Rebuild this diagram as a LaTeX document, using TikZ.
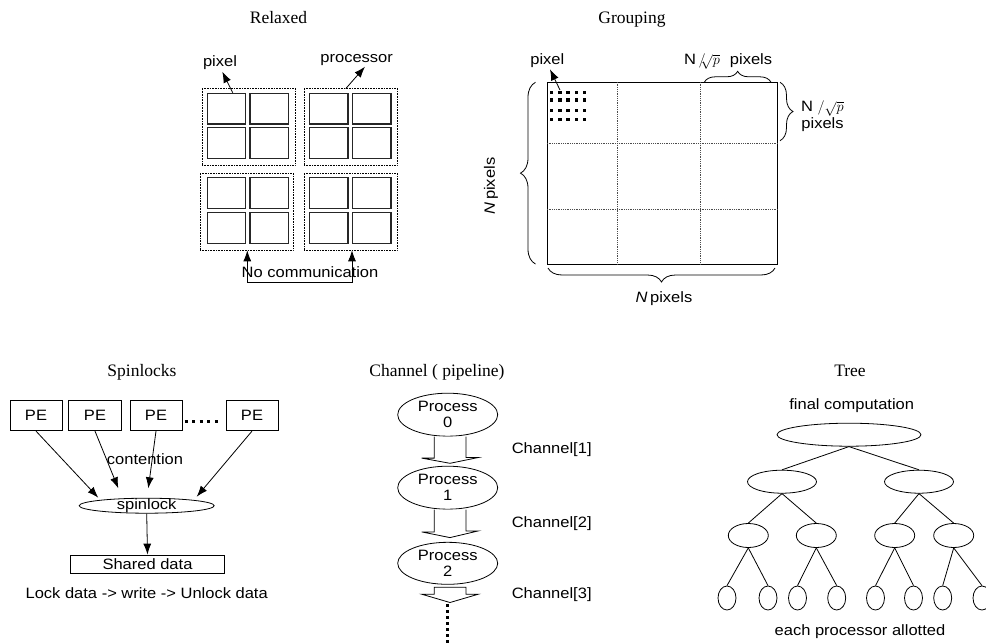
\documentclass[tikz,border=0pt]{standalone}
\usepackage{fontspec}
\setmainfont{Liberation Serif}
\newfontfamily\arialf{Liberation Sans}[FakeStretch=1.1]
\newcommand\labfont{\arialf\fontsize{15}{17}\selectfont}
\usetikzlibrary{shapes.geometric,arrows.meta,decorations.pathreplacing,calc}
\begin{document}
\begin{tikzpicture}[x=1pt,y=-1pt,
  title/.style={font=\fontsize{17.5}{20}\selectfont, anchor=base, inner sep=0},
  lab/.style={font=\labfont, inner sep=0, align=center},
  cell/.style={draw=black!85, line width=1.4pt, minimum width=38.4pt, minimum height=30.7pt, inner sep=0},
  grp/.style={draw, line width=0.6pt, dash pattern=on 0.7pt off 0.9pt, minimum width=93pt, minimum height=77pt, inner sep=0},
  arr/.style={-{Latex[length=11pt,width=8pt]}, line width=0.8pt},
  pebox/.style={draw, line width=0.8pt, minimum width=52pt, minimum height=30pt, inner sep=0, font=\labfont},
  ell/.style={draw, ellipse, line width=0.8pt, inner sep=0},
  gridl/.style={draw=black!70, line width=0.6pt, dash pattern=on 0.8pt off 1pt},
  brc/.style={draw, line width=0.8pt, decorate},
  sq/.style={fill=black, minimum size=3.4pt, inner sep=0},
  edge/.style={line width=0.8pt},
  blk/.style={draw, line width=0.8pt, fill=white},
]
\clip (0,0) rectangle (986,643);

% ---------------- titles
\node[title] (t1) at (278.5,23.5) {Relaxed};
\node[title] (t2) at (632,23.5) {Grouping};
\node[title] (t3) at (142,376) {Spinlocks};
\node[title] (t4) at (437,376) {Channel ( pipeline)};
\node[title] (t5) at (850,376) {Tree};

% ---------------- Relaxed
\node[grp] (g1) at (248.5,126.5) {};
\node[grp] (g2) at (350.5,126.5) {};
\node[grp] (g3) at (246.5,211.5) {};
\node[grp] (g4) at (350.5,211.5) {};
\foreach \gx/\gy/\n in {226.5/108.7/11, 269.2/108.7/12, 226.5/143/13, 269.2/143/14,
                        328.9/108.7/21, 371.7/108.7/22, 328.9/143/23, 371.7/143/24,
                        226.5/193/31, 269.2/193/32, 226.5/228/33, 269.2/228/34,
                        328.9/193/41, 371.7/193/42, 328.9/228/43, 371.7/228/44}
  \node[cell] (c\n) at (\gx,\gy) {};
\node[lab] (lpx1) at (220,62.7) {pixel};
\node[lab] (lproc) at (356.7,60) {processor};
\coordinate (tp1) at (222.3,71.7);
\coordinate (tp2) at (365,66.7);
\draw[arr] ($(c11.north)+(6.2,0)$) -- (tp1);
\draw[arr] ($(g2.north)+(-4.8,1)$) -- (tp2);
\coordinate (nc1) at (247.3,282.7);
\coordinate (nc2) at (352,282.7);
\draw[line width=0.8pt] (nc1) -- (nc2);
\draw[arr] (nc1) -- (nc1 |- g3.south);
\draw[arr] (nc2) -- (nc2 |- g4.south);
\node[lab] (lnc) at (310,272.3) {No communication};

% ---------------- Grouping
\node[draw, line width=1.1pt, minimum width=230pt, minimum height=181.7pt, inner sep=0] (G) at (662.3,173.2) {};
\draw[gridl] ($(G.north west)+(71,0)$) -- ($(G.south west)+(71,0)$);
\draw[gridl] ($(G.north west)+(153.7,0)$) -- ($(G.south west)+(153.7,0)$);
\draw[gridl] ($(G.north west)+(0,61.7)$) -- ($(G.north east)+(0,61.7)$);
\draw[gridl] ($(G.north west)+(0,127.7)$) -- ($(G.north east)+(0,127.7)$);
\foreach \ry in {92.3,100,110.7,119.7}
  \foreach \rx in {551.5,559.8,568,576.3,584.5}
    \node[sq] at (\rx,\ry) {};
\node[lab] (lpx2) at (547.3,60.7) {pixel};
\coordinate (tp3) at (550,69.3);
\draw[arr] (560,90) -- (tp3);
\coordinate (bt1) at (704.3,82.3);
\coordinate (bt2) at (771,82.3);
\draw[brc, decoration={brace, amplitude=11pt}] (bt1) -- (bt2);
\node[lab, anchor=west] (ltop) at (684,61.7) {N\,$/\!\!\sqrt{p}$\hspace{10pt}pixels};
\coordinate (br1) at (780,82.3);
\coordinate (br2) at (780,140.7);
\draw[brc, decoration={brace, amplitude=13pt}] (br1) -- (br2);
\node[lab] (lright) at (822.5,116.5) {N $/\sqrt{p}$\\pixels};
\coordinate (bl1) at (535.5,264);
\coordinate (bl2) at (535.5,82.3);
\draw[brc, decoration={brace, amplitude=15pt}] (bl1) -- (bl2);
\node[lab, rotate=90] (lleft) at (491,186) {\textit{N}\,pixels};
\coordinate (bb1) at (775,268);
\coordinate (bb2) at (548,268);
\draw[brc, decoration={brace, amplitude=14pt}] (bb1) -- (bb2);
\node[lab] (lbot) at (664,299) {\textit{N}\,pixels};

% ---------------- Spinlocks
\node[pebox] (pe1) at (36,415.7) {PE};
\node[pebox, minimum width=53pt] (pe2) at (95,415.7) {PE};
\node[pebox] (pe3) at (156,415.7) {PE};
\node[pebox] (pe4) at (252,415.7) {PE};
\draw[line width=3pt, dash pattern=on 3pt off 4.6pt] (184.5,421) -- (222,421);
\node[ell, minimum width=135pt, minimum height=15pt, label={[lab]center:spinlock}] (spin) at (146.7,505.7) {};
\node[lab] (lcont) at (145,459.3) {contention};
\coordinate (s1) at (98.3,497.7);
\coordinate (s2) at (118.3,488.3);
\coordinate (s3) at (148.3,488.3);
\coordinate (s4) at (196.7,496.7);
\draw[arr] (pe1.south) -- (s1);
\draw[arr] (pe2.south) -- (s2);
\draw[arr] (pe3.south) -- (s3);
\draw[arr] (pe4.south) -- (s4);
\node[draw, line width=0.8pt, minimum width=153.6pt, minimum height=18.3pt, inner sep=0, font=\labfont] (shared) at (147.5,564.2) {Shared data};
\draw[arr] (spin.south) -- (shared.north);
\node[lab] (llock) at (146.7,593.3) {Lock data -> write -> Unlock data};

% ---------------- Channel
\node[ell, minimum width=100pt, minimum height=43pt, align=center, font=\labfont] (p0) at (447.7,414.7) {Process\\[-1pt]0};
\node[ell, minimum width=100pt, minimum height=43pt, align=center, font=\labfont] (p1) at (447.7,487.7) {Process\\[-1pt]1};
\node[ell, minimum width=100pt, minimum height=42pt, align=center, font=\labfont] (p2) at (447.7,563.3) {Process\\[-1pt]2};
\draw[blk] ($(p0.south)+(-13.4,0)$) -- ++(0,21.5) -- ++(-12.6,0) -- ($(p1.north)+(2.3,-2.5)$) -- ++(28.3,-5.8) -- ++(-12.3,0) -- ($(p0.south)+(18.3,0)$);
\draw[blk] ($(p1.south)+(-13.4,0)$) -- ++(0,22.3) -- ++(-12.6,0) -- ($(p2.north)+(2.3,-4.3)$) -- ++(28.3,-6.7) -- ++(-12.3,0) -- ($(p1.south)+(18.3,0)$);
\coordinate (c3top) at ($(p2.south)+(0,2.5)$);
\draw[blk] ($(c3top)+(-13.4,0)$) -- ++(0,7) -- ++(-12.6,0) -- ++(28.3,8.3) -- ++(28.3,-8.3) -- ++(-12.3,0) -- ++(0,-7) -- cycle;
\coordinate (dt1) at (447.3,604);
\coordinate (dt2) at (447.3,645);
\draw[line width=3pt, dash pattern=on 3pt off 3pt] (dt1) -- (dt2);
\node[lab] (ch1) at (551.7,449.3) {Channel[1]};
\node[lab] (ch2) at (551.7,523.3) {Channel[2]};
\node[lab] (ch3) at (551.7,595) {Channel[3]};

% ---------------- Tree
\node[lab] (lfinal) at (851.7,406) {final computation};
\node[ell, minimum width=144pt, minimum height=23pt] (r) at (849,434.7) {};
\node[ell, minimum width=69pt, minimum height=23pt] (a) at (782,481.7) {};
\node[ell, minimum width=69pt, minimum height=23pt] (b) at (919,481.7) {};
\node[ell, minimum width=40pt, minimum height=24pt] (a1) at (748.3,535.5) {};
\node[ell, minimum width=40pt, minimum height=24pt] (a2) at (816.3,535.5) {};
\node[ell, minimum width=40pt, minimum height=24pt] (b1) at (894.7,535.5) {};
\node[ell, minimum width=40pt, minimum height=24pt] (b2) at (953.7,535.5) {};
\foreach \lx/\n in {727/1, 768/2, 797.5/3, 836.7/4, 875.5/5, 913.5/6, 942.7/7, 982/8}
  \node[ell, minimum width=18pt, minimum height=24pt] (l\n) at (\lx,598) {};
\draw[edge] (r.south) -- (a.north);
\draw[edge] (r.south) -- (b.north);
\draw[edge] (a.south) -- (a1.north);
\draw[edge] (a.south) -- (a2.north);
\draw[edge] (b.south) -- (b1.north);
\draw[edge] (b.south) -- (b2.north);
\draw[edge] (a1.south) -- (l1.north);
\draw[edge] (a1.south) -- (l2.north);
\draw[edge] (a2.south) -- (l3.north);
\draw[edge] (a2.south) -- (l4.north);
\draw[edge] (b1.south) -- (l5.north);
\draw[edge] (b1.south) -- (l6.north);
\draw[edge] (b2.south) -- (l7.north);
\draw[edge] (b2.south) -- (l8.north);
\node[lab] (lalloc) at (860,631.7) {each processor allotted};
\end{tikzpicture}
\end{document}
